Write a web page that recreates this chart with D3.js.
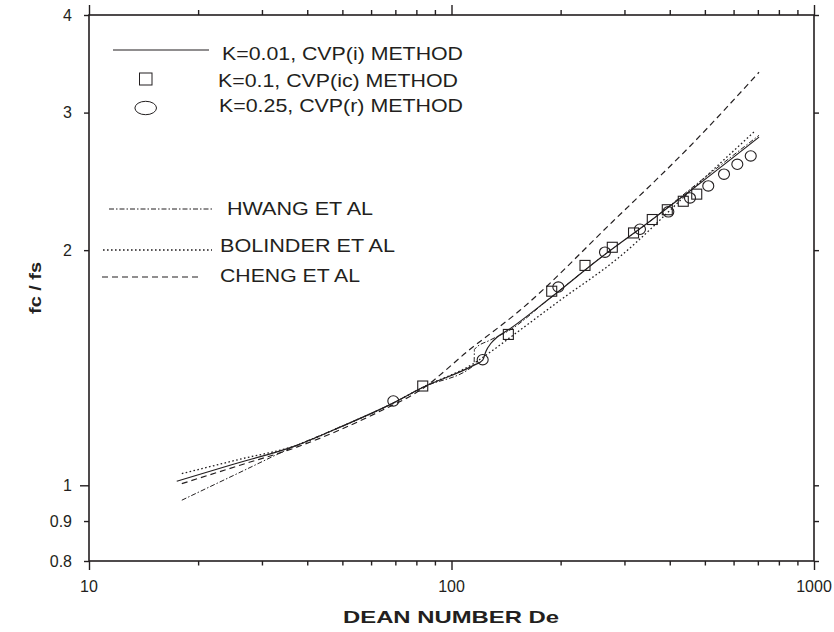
<!DOCTYPE html>
<html>
<head>
<meta charset="utf-8">
<script src="https://d3js.org/d3.v7.min.js"></script>
<style>
  body { margin: 0; background: #fff; }
  svg { display: block; font-family: "Liberation Sans", Arial, Helvetica, sans-serif; }
</style>
</head>
<body>
<svg id="chart" width="834" height="632"></svg>
<script>
// axis ticks
const xMajor = [10, 100, 1000];
const xMinor = [20, 30, 40, 50, 60, 70, 80, 90, 200, 300, 400, 500, 600, 700, 800, 900];
const yTicks = [0.8, 0.9, 1, 2, 3, 4];
const yTickLabels = ["0.8", "0.9", "1", "2", "3", "4"];

// K=0.01, CVP(i) method (solid)
const cvpDe = [17.46, 24.49, 37.41, 49.25, 68.97, 83.44, 115.4, 121.9, 124.5, 128.5, 133.5, 143.2, 186.9, 256.8, 352.8, 484.8, 705.3];
const cvpF  = [1.012, 1.061, 1.125, 1.187, 1.274, 1.335, 1.425, 1.446, 1.485, 1.520, 1.547, 1.580, 1.736, 1.953, 2.178, 2.436, 2.791];

// Hwang et al (dash-dot)
const hwangDe = [18.03, 26.10, 37.41, 49.25, 68.97, 83.44, 115.4, 115.7, 127.7, 143.2, 186.9, 256.8, 352.8, 484.8, 705.3];
const hwangF  = [0.957, 1.039, 1.125, 1.187, 1.274, 1.335, 1.425, 1.493, 1.534, 1.575, 1.736, 1.953, 2.178, 2.450, 2.806];

// Bolinder et al (dotted)
const bolinderDe = [18.03, 26.10, 37.41, 49.25, 68.97, 83.44, 115.4, 127.7, 147.8, 199.3, 287.9, 454.9, 683.3];
const bolinderF  = [1.035, 1.080, 1.125, 1.187, 1.274, 1.335, 1.433, 1.480, 1.556, 1.725, 1.953, 2.379, 2.834];

// Cheng et al (dashed)
const chengDe = [18.03, 26.10, 37.41, 63.51, 81.86, 112.5, 154.5, 279.0, 454.9, 705.3];
const chengF  = [1.005, 1.061, 1.119, 1.244, 1.323, 1.493, 1.675, 2.178, 2.717, 3.379];

// K=0.1, CVP(ic) method (squares)
const squareDe = [83.3, 143.5, 189.0, 233.5, 277.7, 317.8, 358.0, 393.8, 435.9, 474.8];
const squareF  = [1.340, 1.560, 1.772, 1.912, 2.017, 2.104, 2.189, 2.253, 2.310, 2.359];

// K=0.25, CVP(r) method (circles)
const circleDe = [69.1, 121.9, 197.1, 265.1, 331.1, 396.4, 454.9, 510.9, 564.6, 614.4, 669.1];
const circleF  = [1.282, 1.448, 1.794, 1.988, 2.127, 2.239, 2.333, 2.417, 2.502, 2.576, 2.640];

const ink = "#231f20";
const svg = d3.select("#chart");
const plotLeft = 89, plotRight = 814, plotTop = 15, plotBottom = 561;

const x = d3.scaleLog().domain([10, 1000]).range([plotLeft, plotRight]);
const y = d3.scaleLog().domain([0.8, 4]).range([plotBottom, plotTop]);

function zip(a, b) { return a.map(function(d, i) { return [d, b[i]]; }); }

// ticks, all pointing outward
function tickAxis(axis, pos, values, size) {
    const g = svg.append("g")
        .attr("transform", pos)
        .call(axis.tickValues(values).tickSize(size).tickSizeOuter(0).tickFormat(""));
    g.select(".domain").remove();
    g.selectAll("line").attr("stroke", ink).attr("stroke-width", 1.4);
}
tickAxis(d3.axisBottom(x), "translate(0," + plotBottom + ")", xMajor, 9);
tickAxis(d3.axisBottom(x), "translate(0," + plotBottom + ")", xMinor, 4.5);
tickAxis(d3.axisTop(x), "translate(0," + plotTop + ")", xMajor, 10);
tickAxis(d3.axisTop(x), "translate(0," + plotTop + ")", xMinor, 5);
tickAxis(d3.axisLeft(y), "translate(" + plotLeft + ",0)", [1], 9);
tickAxis(d3.axisLeft(y), "translate(" + plotLeft + ",0)", yTicks.filter(function(d) { return d !== 1; }), 5);
tickAxis(d3.axisRight(y), "translate(" + plotRight + ",0)", yTicks, 5);

// frame
svg.append("rect")
    .attr("x", plotLeft).attr("y", plotTop)
    .attr("width", plotRight - plotLeft).attr("height", plotBottom - plotTop)
    .attr("fill", "none").attr("stroke", ink).attr("stroke-width", 1.6);

// tick labels
svg.append("g").selectAll("text")
    .data(xMajor).enter().append("text")
    .attr("x", function(d) { return x(d); })
    .attr("y", 592)
    .attr("text-anchor", "middle")
    .attr("font-size", 16).attr("fill", ink)
    .text(function(d) { return d; });

svg.append("g").selectAll("text")
    .data(yTicks).enter().append("text")
    .attr("x", 72)
    .attr("y", function(d) { return y(d); })
    .attr("dy", "0.35em")
    .attr("text-anchor", "end")
    .attr("font-size", 16).attr("fill", ink)
    .text(function(d, i) { return yTickLabels[i]; });

// axis titles
svg.append("text")
    .attr("x", 451).attr("y", 623)
    .attr("text-anchor", "middle")
    .attr("font-size", 17).attr("font-weight", "bold").attr("fill", ink)
    .attr("textLength", 216).attr("lengthAdjust", "spacingAndGlyphs")
    .text("DEAN NUMBER De");

svg.append("text")
    .attr("transform", "translate(41,288) rotate(-90)")
    .attr("text-anchor", "middle")
    .attr("font-size", 17).attr("font-weight", "bold").attr("fill", ink)
    .attr("textLength", 52).attr("lengthAdjust", "spacingAndGlyphs")
    .text("fc / fs");

// curves
const line = d3.line()
    .x(function(d) { return x(d[0]); })
    .y(function(d) { return y(d[1]); })
    .curve(d3.curveMonotoneX);

const curves = [
    { data: zip(chengDe, chengF), dash: "6,4", width: 1.2 },
    { data: zip(bolinderDe, bolinderF), dash: "1.6,2.4", width: 1.3 },
    { data: zip(hwangDe, hwangF), dash: "5,2,1.5,2", width: 1 },
    { data: zip(cvpDe, cvpF), dash: null, width: 1.2 }
];

svg.append("g").selectAll("path")
    .data(curves).enter().append("path")
    .attr("d", function(d) { return line(d.data); })
    .attr("fill", "none")
    .attr("stroke", ink)
    .attr("stroke-width", function(d) { return d.width; })
    .attr("stroke-dasharray", function(d) { return d.dash; });

// markers
svg.append("g").selectAll("rect")
    .data(zip(squareDe, squareF)).enter().append("rect")
    .attr("x", function(d) { return x(d[0]) - 5; })
    .attr("y", function(d) { return y(d[1]) - 5; })
    .attr("width", 10).attr("height", 10)
    .attr("fill", "none").attr("stroke", ink).attr("stroke-width", 1.1);

svg.append("g").selectAll("ellipse")
    .data(zip(circleDe, circleF)).enter().append("ellipse")
    .attr("cx", function(d) { return x(d[0]); })
    .attr("cy", function(d) { return y(d[1]); })
    .attr("rx", 5.5).attr("ry", 5.2)
    .attr("fill", "none").attr("stroke", ink).attr("stroke-width", 1.1);

// legend
const legend = svg.append("g").attr("fill", ink).attr("font-size", 19);

const legendLines = [
    { x1: 113, x2: 209, y: 50, dash: null, width: 1.2 },
    { x1: 109, x2: 213, y: 209, dash: "5,2,1.5,2", width: 1 },
    { x1: 103, x2: 212, y: 250, dash: "1.6,2.4", width: 1.3 },
    { x1: 102, x2: 198, y: 277, dash: "6,4", width: 1.2 }
];
legend.selectAll("line")
    .data(legendLines).enter().append("line")
    .attr("x1", function(d) { return d.x1; })
    .attr("x2", function(d) { return d.x2; })
    .attr("y1", function(d) { return d.y; })
    .attr("y2", function(d) { return d.y; })
    .attr("stroke", ink)
    .attr("stroke-width", function(d) { return d.width; })
    .attr("stroke-dasharray", function(d) { return d.dash; });

legend.append("rect")
    .attr("x", 139.5).attr("y", 73).attr("width", 12.5).attr("height", 12)
    .attr("fill", "none").attr("stroke", ink).attr("stroke-width", 1);
legend.append("ellipse")
    .attr("cx", 145.7).attr("cy", 108).attr("rx", 10.8).attr("ry", 6.7)
    .attr("fill", "none").attr("stroke", ink).attr("stroke-width", 1);

const legendText = [
    { x: 222, y: 60, w: 241, t: "K=0.01, CVP(i) METHOD" },
    { x: 218, y: 87, w: 240, t: "K=0.1, CVP(ic) METHOD" },
    { x: 219, y: 111.5, w: 244, t: "K=0.25, CVP(r) METHOD" },
    { x: 227, y: 215, w: 146, t: "HWANG ET AL" },
    { x: 220, y: 251.5, w: 175, t: "BOLINDER ET AL" },
    { x: 220, y: 281.5, w: 140, t: "CHENG ET AL" }
];
legend.selectAll("text")
    .data(legendText).enter().append("text")
    .attr("x", function(d) { return d.x; })
    .attr("y", function(d) { return d.y; })
    .attr("textLength", function(d) { return d.w; })
    .attr("lengthAdjust", "spacingAndGlyphs")
    .text(function(d) { return d.t; });
</script>
</body>
</html>
